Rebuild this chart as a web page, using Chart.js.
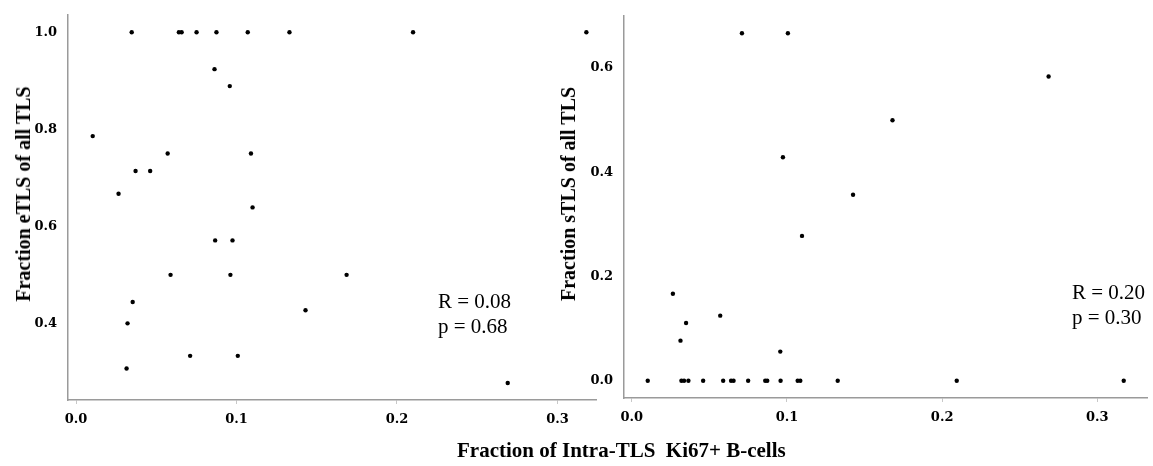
<!DOCTYPE html>
<html>
<head>
<meta charset="utf-8">
<script src="https://cdn.jsdelivr.net/npm/chart.js@4.4.1/dist/chart.umd.min.js"></script>
<style>
    body { margin: 0; background: #fff; width: 1153px; height: 466px; position: relative; overflow: hidden; }
    canvas { position: absolute; top: 0; }
    #eChart { left: 0; }
    #sChart { left: 545px; }
    .ytitle, .xtitle, .stat { position: absolute; white-space: nowrap; color: #000; }
    .ytitle, .xtitle { font: bold 20px "Liberation Serif", serif; line-height: 20px; }
    .ytitle { transform: translate(-50%, -50%) rotate(-90deg); }
    .xtitle { font-size: 21px; line-height: 21px; }
    .stat { font: 21px "Liberation Serif", serif; line-height: 25px; }
</style>
</head>
<body>
<canvas id="eChart" width="600" height="440"></canvas>
<canvas id="sChart" width="608" height="440"></canvas>
<div class="ytitle" style="left:23px; top:194px">Fraction eTLS of all TLS</div>
<div class="ytitle" style="left:568px; top:194px">Fraction sTLS of all TLS</div>
<div class="xtitle" style="left:457px; top:440px">Fraction of Intra-TLS&nbsp; Ki67+ B-cells</div>
<div class="stat" style="left:438px; top:289px">R = 0.08<br>p = 0.68</div>
<div class="stat" style="left:1072px; top:280px">R = 0.20<br>p = 0.30</div>
<script>
// eTLS panel
var eX = [0.0104, 0.0265, 0.0315, 0.0321, 0.0347, 0.0353, 0.0371, 0.0462, 0.0571, 0.0589,
          0.0641, 0.0658, 0.0711, 0.0751, 0.0863, 0.0867, 0.0875, 0.0958, 0.0962, 0.0975,
          0.1008, 0.107, 0.109, 0.110, 0.133, 0.143, 0.1686, 0.210, 0.269, 0.318];
var eY = [0.786, 0.667, 0.307, 0.400, 1.000, 0.444, 0.714, 0.714, 0.750, 0.500,
          1.000, 1.000, 0.333, 1.000, 0.924, 0.571, 1.000, 0.889, 0.500, 0.571,
          0.333, 1.000, 0.750, 0.639, 1.000, 0.427, 0.500, 1.000, 0.277, 1.000];

// sTLS panel
var sX = [0.0103, 0.0265, 0.0314, 0.032, 0.0337, 0.035, 0.0365, 0.046, 0.057, 0.0589,
          0.064, 0.0656, 0.071, 0.075, 0.086, 0.0873, 0.0957, 0.0959, 0.0974, 0.1006,
          0.1069, 0.1086, 0.1097, 0.1327, 0.1426, 0.168, 0.2094, 0.2686, 0.317];
var sY = [0, 0.167, 0.077, 0, 0, 0.111, 0, 0, 0.125, 0,
          0, 0, 0.667, 0, 0, 0, 0.056, 0, 0.429, 0.667,
          0, 0, 0.278, 0, 0.357, 0.500, 0, 0.584, 0];

var xTicks = [0.0, 0.1, 0.2, 0.3];
var eYTicks = [0.4, 0.6, 0.8, 1.0];
var sYTicks = [0.0, 0.2, 0.4, 0.6];

const toPoints = (xs, ys) => xs.map((x, i) => ({ x, y: ys[i] }));

const tickFont = { family: '"DejaVu Serif", serif', size: 13, weight: 'bold' };

function makeChart(id, xs, ys, yTicks, xRange, yRange, pad, yWidth, xHeight) {
    const axis = (range, ticks, isY) => ({
        type: 'linear',
        min: range[0],
        max: range[1],
        afterBuildTicks: s => { s.ticks = ticks.map(v => ({ value: v })); },
        afterFit: s => { if (isY) s.width = yWidth; else s.height = xHeight; },
        grid: { drawOnChartArea: false, color: isY ? 'rgba(0,0,0,0)' : '#c8c8c8', tickLength: 4 },
        border: { color: '#9a9a9a', width: 1.5 },
        ticks: {
            color: '#000',
            font: tickFont,
            padding: isY ? 7 : 8,
            maxRotation: 0,
            callback: v => v.toFixed(1)
        }
    });
    return new Chart(document.getElementById(id), {
        type: 'scatter',
        data: {
            datasets: [{
                data: toPoints(xs, ys),
                backgroundColor: '#000',
                borderColor: '#000',
                pointRadius: 2.2,
                pointBorderWidth: 0
            }]
        },
        options: {
            responsive: false,
            animation: false,
            layout: { padding: pad },
            plugins: { legend: { display: false }, tooltip: { enabled: false } },
            scales: {
                x: axis(xRange, xTicks, false),
                y: axis(yRange, yTicks, true)
            }
        }
    });
}

makeChart('eChart', eX, eY, eYTicks, [-0.005, 0.324], [0.242, 1.036],
    { top: 8, right: 3, left: 0, bottom: 0 }, 68, 40);
makeChart('sChart', sX, sY, sYTicks, [-0.005, 0.332], [-0.033, 0.700],
    { top: 16, right: 6, left: 0, bottom: 0 }, 79, 42);
</script>
</body>
</html>
